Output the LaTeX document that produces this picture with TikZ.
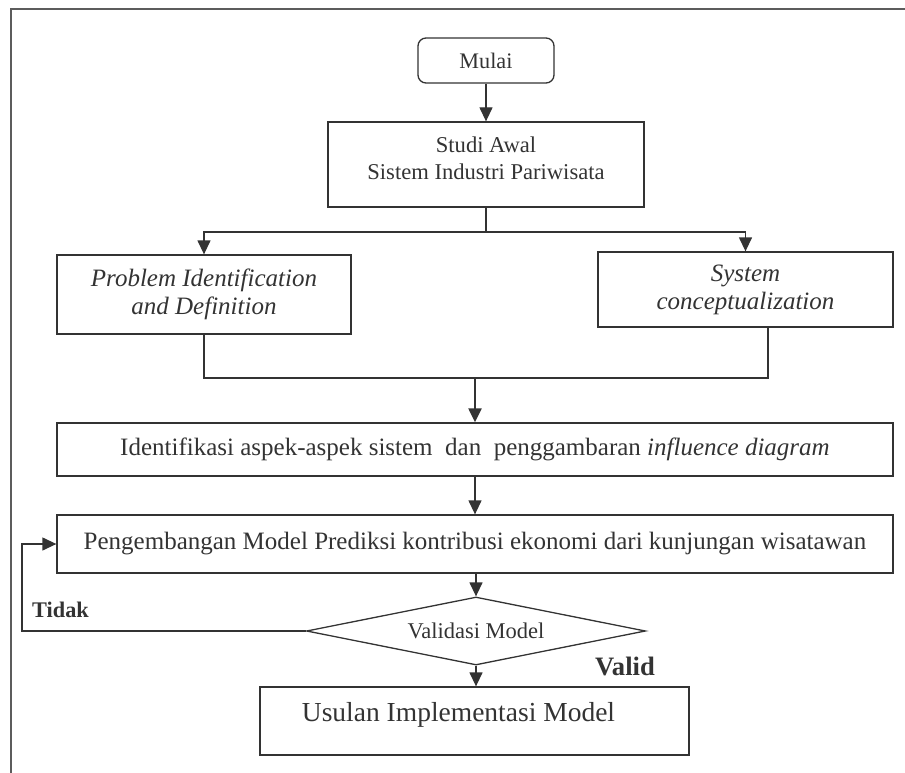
\documentclass[tikz,border=0pt]{standalone}
\usepackage{fontspec}
\setmainfont{Liberation Serif}
\usetikzlibrary{arrows.meta,shapes.geometric,calc}
\definecolor{ink}{HTML}{333333}
\newcommand{\fs}[1]{\fontsize{#1}{#1*1.15}\selectfont}
\begin{document}
\begin{tikzpicture}[x=1pt,y=-1pt,
  every node/.style={text=ink,font=\fontsize{25}{28}\selectfont},
  box/.style={draw=ink,line width=1.3pt,rectangle,inner sep=0pt,align=center},
  txt/.style={inner sep=0pt,align=center},
  conn/.style={draw=ink,line width=1.3pt},
  arr/.style={conn,-{Triangle[width=13pt,length=14pt]}},
  lbl/.style={inner sep=0pt}]
\useasboundingbox (0,0) rectangle (905,773);
% frame
\draw[draw=ink!80,line width=1.6pt] (905,9) -- (11,9) -- (11,773);
% nodes
\node[box,rounded corners=8pt,minimum width=136pt,minimum height=45pt,font=\fontsize{22.2}{26}\selectfont] (mulai) at (486,60.5) {Mulai};
\node[box,minimum width=316pt,minimum height=85pt] (studi) at (486,164.5) {};
\node[txt,font=\fontsize{22.6}{27}\selectfont] (studit) at (486,158.5) {Studi Awal\\Sistem Industri Pariwisata};
\node[box,minimum width=294pt,minimum height=79pt,font=\fontsize{25}{28}\selectfont\itshape] (prob) at (204,294.5) {Problem Identification\\and Definition};
\node[box,minimum width=295pt,minimum height=75pt,font=\fontsize{25}{28}\selectfont\itshape] (sys) at (745.5,289.5) {System\\conceptualization};
\node[box,minimum width=836pt,minimum height=53pt] (ident) at (475,449.5) {Identifikasi aspek-aspek sistem\ \ dan\ \ penggambaran \textit{influence diagram}};
\node[box,minimum width=836pt,minimum height=58pt] (peng) at (475,544) {Pengembangan Model Prediksi kontribusi ekonomi dari kunjungan wisatawan};
\node[draw=ink,line width=1.3pt,diamond,aspect=4.985,inner sep=0pt,minimum width=339pt,minimum height=68pt,font=\fontsize{22.5}{26}\selectfont] (dia) at (476,631) {Validasi Model};
\node[box,minimum width=429pt,minimum height=68pt] (us) at (474.5,721) {};
\node[txt,font=\fontsize{27.5}{30}\selectfont] (ust) at (458.5,715) {Usulan Implementasi Model};
\node[lbl,anchor=base west,font=\fontsize{22.3}{26}\selectfont\bfseries] (tidak) at (32,617) {Tidak};
\node[lbl,anchor=base west,font=\fontsize{26.6}{30}\selectfont\bfseries] (valid) at (595,675) {Valid};
% coordinates
\coordinate (br) at (486,232);
\coordinate (m) at (475,378);
\coordinate (sysb) at ([xshift=22.5pt]sys.south);
\coordinate (fb) at (22,631);
% connectors
\draw[arr] (mulai.south) -- (studi.north);
\draw[conn] (studi.south) -- (br);
\draw[arr] (br) -| (prob.north);
\draw[arr] (br) -| (sys.north);
\draw[conn] (prob.south) |- (m);
\draw[conn] (sysb) |- (m);
\draw[arr,line width=2.2pt] (m) -- (ident.north -| m);
\draw[arr] (ident.south -| m) -- (peng.north -| m);
\draw[arr] (peng.south -| dia.north) -- (dia.north);
\draw[arr] (dia.south) -- (dia.south |- us.north);
\draw[arr] (dia.west) -- (fb) |- (peng.west);
\end{tikzpicture}
\end{document}
